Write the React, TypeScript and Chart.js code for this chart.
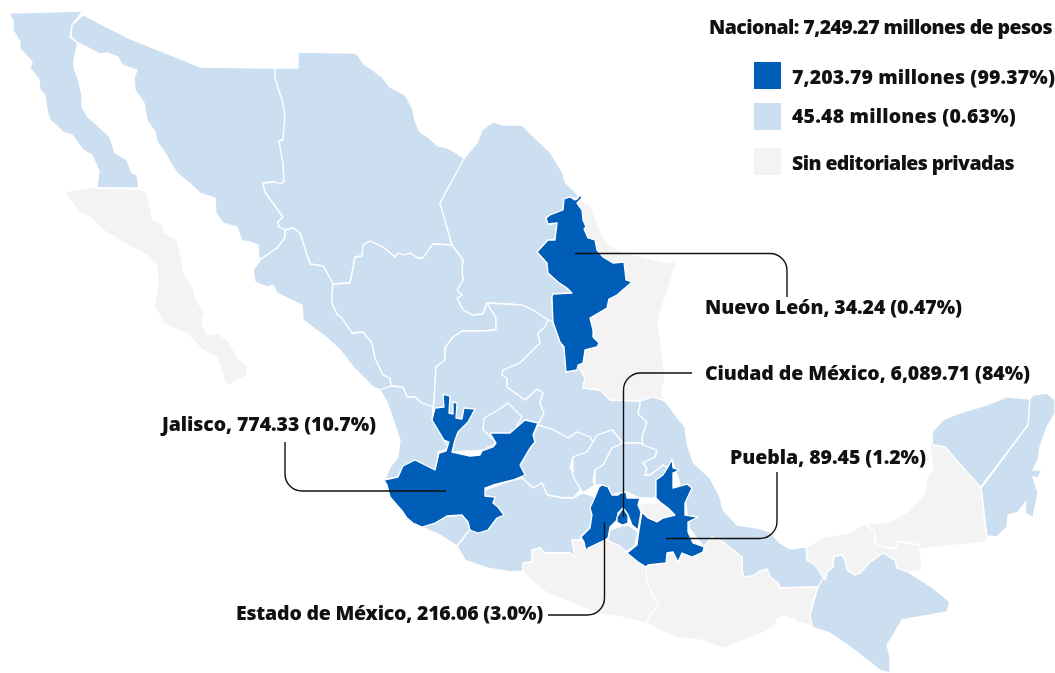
import React, { useEffect, useRef } from "react";
import { Chart, registerables } from "chart.js";

Chart.register(...registerables);

// Map outlines, as [x, y] in the map's own units (one unit per pixel of the source map).
const bajaCalifornia = [[9,13],[83,11],[72,25],[70,37],[78,43],[74,60],[74,68],[78,78],[82,95],[82,107],[88,117],[95,123],[110,137],[115,153],[127,160],[132,173],[137,175],[139,188],[97,188],[99,171],[92,155],[83,150],[72,135],[63,132],[50,120],[47,110],[45,95],[40,90],[39,80],[30,68],[32,62],[20,49],[20,42],[13,30],[13,21]];
const sonora = [[83,15],[128,38],[188,62],[200,67],[275,68],[275,78],[283,103],[285,117],[283,140],[279,141],[283,163],[284,182],[280,184],[275,182],[263,183],[265,192],[283,217],[278,222],[279,227],[285,230],[285,238],[277,248],[261,259],[259,258],[258,245],[250,242],[242,241],[237,227],[223,223],[216,213],[215,198],[200,193],[188,182],[177,173],[163,150],[157,142],[155,132],[147,120],[144,103],[135,90],[134,78],[137,70],[122,65],[118,57],[108,53],[100,54],[83,45],[78,43],[71,37],[72,25]];
const chihuahua = [[275,68],[298,68],[298,52],[353,53],[357,54],[365,65],[370,68],[382,77],[390,87],[405,95],[408,100],[413,110],[415,120],[420,132],[428,137],[438,146],[445,147],[455,152],[462,157],[465,157],[440,203],[452,245],[433,244],[430,248],[423,258],[418,258],[410,253],[405,255],[398,253],[395,257],[383,247],[370,241],[363,245],[362,256],[355,257],[353,268],[350,283],[333,284],[330,278],[323,266],[310,264],[307,255],[300,233],[293,228],[285,230],[279,227],[278,222],[283,217],[265,192],[263,183],[275,182],[280,184],[284,182],[283,163],[279,141],[283,140],[285,117],[283,103],[275,78]];
const sinaloa = [[285,230],[293,228],[300,233],[307,255],[310,264],[323,266],[330,278],[333,284],[332,295],[332,303],[337,314],[342,318],[352,333],[363,332],[372,343],[375,358],[383,375],[390,378],[391,386],[380,390],[373,387],[353,367],[340,350],[327,338],[303,320],[302,305],[287,298],[277,293],[273,285],[267,287],[255,282],[253,270],[261,259],[277,248],[285,238]];
const coahuila = [[465,157],[477,143],[482,130],[493,122],[503,125],[522,125],[530,133],[550,152],[563,173],[565,182],[578,195],[577,199],[570,197],[564,199],[563,210],[550,215],[546,218],[548,224],[557,223],[555,240],[548,240],[537,252],[547,263],[548,273],[558,282],[567,288],[572,293],[553,294],[552,297],[553,322],[548,320],[533,310],[522,305],[487,303],[483,314],[473,315],[463,310],[457,298],[462,295],[457,290],[463,280],[462,270],[463,260],[452,245],[440,203]];
const durango = [[333,284],[350,283],[353,268],[355,257],[362,256],[363,245],[370,241],[383,247],[395,257],[398,253],[405,255],[410,253],[418,258],[423,258],[430,248],[433,244],[452,245],[463,260],[462,270],[463,280],[457,290],[462,295],[457,298],[463,310],[473,315],[483,314],[487,303],[496,318],[496,330],[483,331],[462,331],[453,337],[445,348],[445,360],[436,367],[434,403],[433,407],[422,403],[415,397],[407,397],[403,387],[391,386],[390,378],[383,375],[375,358],[372,343],[363,332],[352,333],[342,318],[337,314],[332,303],[332,295]];
const nayarit = [[391,386],[403,387],[407,397],[415,397],[422,403],[433,407],[432,420],[438,430],[444,440],[449,448],[438,452],[438,458],[435,470],[415,460],[403,467],[398,477],[385,480],[390,467],[398,457],[400,440],[387,402],[380,390]];
const zacatecas = [[487,303],[522,305],[533,310],[548,320],[545,327],[538,333],[540,343],[520,363],[503,370],[502,375],[507,378],[507,387],[525,400],[537,389],[543,393],[540,403],[544,413],[538,425],[510,440],[490,450],[452,452],[449,448],[444,440],[433,407],[434,403],[436,367],[445,360],[445,348],[453,337],[462,331],[483,331],[496,330],[496,318]];
const aguascalientes = [[508,403],[498,410],[484,418],[483,430],[495,441],[495,444],[481,451],[520,440],[517,425],[522,417]];
const sanLuisPotosi = [[548,320],[553,322],[560,342],[564,347],[566,372],[577,370],[578,365],[585,378],[583,388],[600,390],[610,400],[640,401],[640,405],[638,414],[647,422],[642,437],[643,445],[640,443],[623,443],[612,430],[597,435],[593,442],[590,437],[577,432],[568,438],[552,429],[538,425],[544,413],[540,403],[543,393],[537,389],[525,400],[507,387],[507,378],[502,375],[503,370],[520,363],[540,343],[538,333],[545,327]];
const guanajuato = [[538,425],[552,429],[568,438],[577,432],[590,437],[593,442],[587,452],[573,457],[570,468],[583,487],[573,498],[563,498],[547,495],[542,483],[533,488],[522,478],[520,465],[530,448],[535,442],[533,435]];
const queretaro = [[593,442],[597,435],[612,430],[623,443],[612,448],[603,465],[595,470],[593,482],[595,485],[583,493],[575,480],[572,472],[573,457],[587,452]];
const hidalgo = [[623,443],[640,443],[643,445],[657,450],[655,457],[643,463],[647,468],[645,475],[650,475],[663,465],[668,467],[663,475],[656,480],[656,498],[640,498],[627,492],[620,493],[612,495],[608,487],[602,485],[595,485],[595,470],[603,465],[612,448]];
const veracruz = [[640,405],[640,401],[653,397],[663,400],[667,403],[677,417],[685,427],[687,443],[693,462],[710,478],[720,497],[723,510],[737,525],[757,528],[770,532],[780,543],[790,549],[806,547],[807,560],[815,565],[825,580],[817,587],[780,588],[778,583],[770,577],[767,569],[760,571],[753,576],[744,577],[742,570],[742,557],[723,542],[712,537],[704,547],[690,530],[685,500],[672,459],[668,467],[663,465],[650,475],[645,475],[647,468],[643,463],[655,457],[657,450],[643,445],[642,437],[647,422],[638,414]];
const michoacan = [[467,533],[470,530],[480,520],[485,490],[513,480],[522,478],[533,488],[542,483],[547,495],[563,498],[573,498],[583,493],[595,497],[590,528],[581,537],[580,540],[572,540],[575,557],[570,553],[545,553],[540,548],[532,550],[532,562],[523,563],[523,571],[510,572],[487,568],[465,560],[457,546]];
const colima = [[422,527],[435,523],[447,516],[462,515],[468,522],[470,530],[467,533],[457,546],[440,535]];
const morelos = [[608,540],[610,530],[622,526],[628,525],[638,532],[635,545],[627,552],[618,545],[613,543]];
const yucatan = [[932,432],[943,420],[957,414],[987,405],[1007,397],[1030,399],[1032,413],[1028,425],[980,488],[945,447],[932,445]];
const quintanaRoo = [[1030,399],[1033,395],[1047,393],[1055,400],[1055,413],[1047,427],[1040,447],[1038,460],[1033,470],[1042,470],[1038,478],[1033,477],[1038,493],[1033,518],[1025,513],[1026,502],[1018,512],[1008,515],[1007,527],[997,537],[987,536],[981,488],[1028,425]];
const chiapas = [[818,587],[827,572],[833,567],[834,556],[842,555],[845,560],[847,570],[855,575],[860,573],[870,562],[883,553],[895,560],[897,568],[908,572],[933,588],[950,602],[947,612],[902,620],[895,632],[887,645],[890,657],[890,673],[880,670],[850,647],[830,633],[812,627],[810,615]];

const bajaCaliforniaSur = [[64,192],[90,187],[95,188],[140,189],[147,193],[153,220],[163,225],[165,233],[177,240],[183,263],[183,272],[193,287],[197,302],[205,312],[202,323],[207,335],[218,333],[230,343],[237,357],[247,365],[247,375],[230,385],[225,382],[217,358],[202,350],[187,333],[172,328],[163,322],[160,315],[154,308],[158,287],[157,265],[147,255],[133,248],[103,230],[90,217],[80,213],[68,197]];
const tamaulipas = [[578,195],[583,202],[590,205],[595,217],[600,230],[607,243],[620,252],[643,257],[663,262],[677,262],[673,273],[668,290],[660,313],[658,323],[663,360],[665,380],[662,390],[663,400],[653,397],[640,401],[610,400],[600,390],[583,388],[585,378],[578,365],[583,363],[585,350],[597,347],[599,343],[593,337],[593,330],[590,318],[607,308],[609,299],[617,295],[632,282],[626,280],[624,262],[613,263],[603,257],[597,250],[595,240],[588,238],[584,229],[586,227],[583,220],[582,210],[577,203]];
const guerrero = [[523,563],[532,562],[532,550],[540,548],[545,553],[570,553],[575,557],[572,540],[580,540],[584,542],[588,553],[588,548],[605,540],[613,543],[618,545],[627,552],[638,562],[646,567],[647,580],[652,595],[659,602],[655,610],[650,615],[646,623],[620,617],[603,615],[570,602],[550,595],[532,582],[523,571]];
const oaxaca = [[646,567],[648,565],[666,563],[667,553],[673,552],[678,562],[682,553],[692,557],[703,552],[704,547],[712,537],[723,542],[742,557],[742,570],[744,577],[753,576],[760,571],[767,569],[770,577],[778,583],[780,588],[817,587],[810,615],[812,626],[797,622],[795,618],[788,619],[784,615],[776,620],[777,623],[765,632],[740,642],[723,648],[700,640],[677,638],[660,630],[646,623],[650,615],[655,610],[659,602],[652,595],[647,580]];
const tlaxcala = [[637,507],[642,503],[660,503],[668,508],[675,512],[673,517],[663,518],[657,522],[648,518],[643,512]];
const tabasco = [[807,547],[823,537],[848,533],[865,524],[875,532],[875,543],[887,548],[897,548],[898,541],[920,545],[922,570],[908,572],[897,568],[895,560],[883,553],[870,562],[860,573],[855,575],[847,570],[845,560],[842,555],[834,556],[833,567],[827,572],[825,580],[815,565],[807,560]];
const campeche = [[865,524],[890,522],[907,512],[925,493],[927,477],[933,468],[930,447],[932,432],[932,445],[945,447],[981,488],[987,542],[920,549],[920,545],[898,541],[897,548],[887,548],[875,543],[875,532]];

const jalisco = [[384,480],[398,477],[403,466],[415,460],[435,470],[439,453],[446,451],[449,442],[444,440],[438,430],[432,420],[435,408],[444,407],[443,394],[450,396],[449,413],[453,414],[453,402],[457,403],[456,418],[462,419],[464,408],[475,409],[468,422],[458,432],[455,440],[452,452],[470,456],[480,455],[482,451],[493,447],[496,443],[490,433],[510,433],[525,420],[538,423],[533,435],[535,442],[530,448],[520,465],[525,475],[513,480],[493,485],[485,488],[485,496],[495,497],[493,503],[498,507],[504,515],[497,518],[488,530],[478,533],[470,530],[468,522],[462,515],[447,516],[435,523],[422,527],[413,523],[407,518],[403,512],[390,497],[387,485]];
const nuevoLeon = [[577,199],[580,195],[582,198],[577,203],[582,210],[583,220],[586,227],[584,229],[588,238],[595,240],[597,250],[603,257],[613,263],[624,262],[626,280],[632,282],[617,295],[609,299],[607,308],[590,318],[593,330],[593,337],[599,343],[597,347],[585,350],[583,363],[578,365],[577,370],[566,372],[564,347],[560,342],[553,322],[552,297],[553,294],[572,293],[567,288],[558,282],[548,273],[547,263],[537,252],[548,240],[555,240],[557,223],[548,224],[546,218],[550,215],[563,210],[564,199],[570,197],[575,200]];
const estadoDeMexico = [[599,487],[602,485],[608,487],[612,495],[618,495],[620,493],[626,492],[627,498],[640,498],[638,505],[641,512],[638,530],[632,525],[628,515],[623,508],[618,513],[617,520],[610,527],[608,538],[605,540],[588,548],[588,553],[585,547],[584,542],[581,537],[590,528],[592,515],[590,508],[595,497]];
const ciudadDeMexico = [[623,508],[628,515],[628,523],[622,525],[617,522],[617,517]];
const puebla = [[672,459],[673,468],[679,470],[673,473],[673,488],[687,484],[692,488],[685,503],[685,515],[698,517],[688,522],[688,532],[693,543],[704,547],[703,552],[692,557],[682,553],[678,562],[673,552],[667,553],[666,563],[648,565],[646,567],[638,562],[627,553],[637,545],[639,530],[642,512],[648,518],[657,522],[663,518],[675,515],[668,508],[660,502],[656,498],[656,480],[663,475],[668,467]];

const lightStates = [bajaCalifornia, sonora, chihuahua, sinaloa, coahuila, durango, nayarit, zacatecas, aguascalientes, sanLuisPotosi, guanajuato, queretaro, hidalgo, veracruz, michoacan, colima, morelos, yucatan, quintanaRoo, chiapas];
const grayStates = [bajaCaliforniaSur, tamaulipas, guerrero, oaxaca, tlaxcala, tabasco, campeche];
const darkStates = [jalisco, nuevoLeon, puebla, estadoDeMexico, ciudadDeMexico];

// Text
const titleText = "Nacional: 7,249.27 millones de pesos";
const legendLabels = ["7,203.79 millones (99.37%)", "45.48 millones (0.63%)", "Sin editoriales privadas"];
const calloutLabels = ["Nuevo León, 34.24 (0.47%)", "Ciudad de México, 6,089.71 (84%)", "Puebla, 89.45 (1.2%)", "Jalisco, 774.33 (10.7%)", "Estado de México, 216.06 (3.0%)"];

// Label placement (map units)
const titleAnchor = [709, 28];
const titleWidth = 343;
const legendBoxes = [[754, 62], [754, 103], [754, 148]];
const legendCentres = [78.5, 117.5, 164];
const legendWidths = [263, 224, 222];
const calloutAnchors = [[705, 308.5], [705, 374.5], [730, 458.5], [162, 425.5], [236, 614.5]];
const calloutWidths = [257, 325, 196, 214, 307];
const leaders = [
  [[575, 253.5], [787, 253.5], [787, 297]],
  [[623.5, 517], [623.5, 373], [692, 373]],
  [[666, 538.5], [777, 538.5], [777, 472]],
  [[446, 491], [285, 491], [285, 442]],
  [[604.5, 522], [604.5, 615], [548, 615]],
];

const DARK = "#005EB8";
const LIGHT = "#CCDFF1";
const GRAY = "#F3F3F3";
const INK = "#111111";
const FONT = '900 19.5px "Noto Sans"';

const closed = (ring: number[][]) => [...ring, ring[0]].map(([x, y]) => ({ x, y }));

const stateDataset = (ring: number[][], color: string) => ({
  data: closed(ring),
  showLine: true,
  fill: "shape",
  backgroundColor: color,
  borderColor: "#FFFFFF",
  borderWidth: 1.3,
  borderJoinStyle: "round",
  pointRadius: 0,
  pointHoverRadius: 0,
  tension: 0,
  clip: false,
});

// Draws one label, spacing its letters so that it spans the width it has in the reference.
const fitText = (ctx: any, text: string, x: number, y: number, width: number) => {
  ctx.letterSpacing = "0px";
  const spare = width - ctx.measureText(text).width;
  ctx.letterSpacing = `${spare / text.length}px`;
  ctx.fillText(text, x, y);
  ctx.letterSpacing = "0px";
};

const annotations = {
  id: "annotations",
  afterDatasetsDraw(chart: any) {
    const { ctx, scales } = chart;
    const px = (v: number) => scales.x.getPixelForValue(v);
    const py = (v: number) => scales.y.getPixelForValue(v);
    ctx.save();
    ctx.strokeStyle = INK;
    ctx.lineWidth = 1.4;
    leaders.forEach(([a, b, c]) => {
      ctx.beginPath();
      ctx.moveTo(px(a[0]), py(a[1]));
      ctx.arcTo(px(b[0]), py(b[1]), px(c[0]), py(c[1]), 17);
      ctx.lineTo(px(c[0]), py(c[1]));
      ctx.stroke();
    });
    [DARK, LIGHT, GRAY].forEach((color, i) => {
      ctx.fillStyle = color;
      ctx.fillRect(px(legendBoxes[i][0]), py(legendBoxes[i][1]), 27, 27);
    });
    ctx.fillStyle = INK;
    ctx.font = FONT;
    ctx.textBaseline = "middle";
    ctx.textAlign = "left";
    fitText(ctx, titleText, px(titleAnchor[0]), py(titleAnchor[1]), titleWidth);
    legendLabels.forEach((t, i) => fitText(ctx, t, px(792), py(legendCentres[i]), legendWidths[i]));
    calloutLabels.forEach((t, i) => fitText(ctx, t, px(calloutAnchors[i][0]), py(calloutAnchors[i][1]), calloutWidths[i]));
    ctx.restore();
  },
};

export default function App() {
  const ref = useRef<HTMLCanvasElement>(null);
  useEffect(() => {
    const datasets = [
      ...lightStates.map((r) => stateDataset(r, LIGHT)),
      ...grayStates.map((r) => stateDataset(r, GRAY)),
      ...darkStates.map((r) => stateDataset(r, DARK)),
    ].map((d, i) => ({ ...d, order: -i }));
    const chart = new Chart(ref.current as HTMLCanvasElement, {
      type: "scatter",
      data: { datasets },
      options: {
        animation: false,
        responsive: false,
        layout: { padding: 0 },
        plugins: { legend: { display: false }, tooltip: { enabled: false } },
        scales: {
          x: { type: "linear", min: 0, max: 1055, display: false },
          y: { type: "linear", min: 0, max: 673, reverse: true, display: false },
        },
      },
      plugins: [annotations],
    } as any);
    return () => chart.destroy();
  }, []);
  return (
    <div style={{ position: "absolute", left: 0, top: 0, width: 1055, height: 673 }}>
      <canvas ref={ref} width={1055} height={673} style={{ display: "block" }} />
    </div>
  );
}
